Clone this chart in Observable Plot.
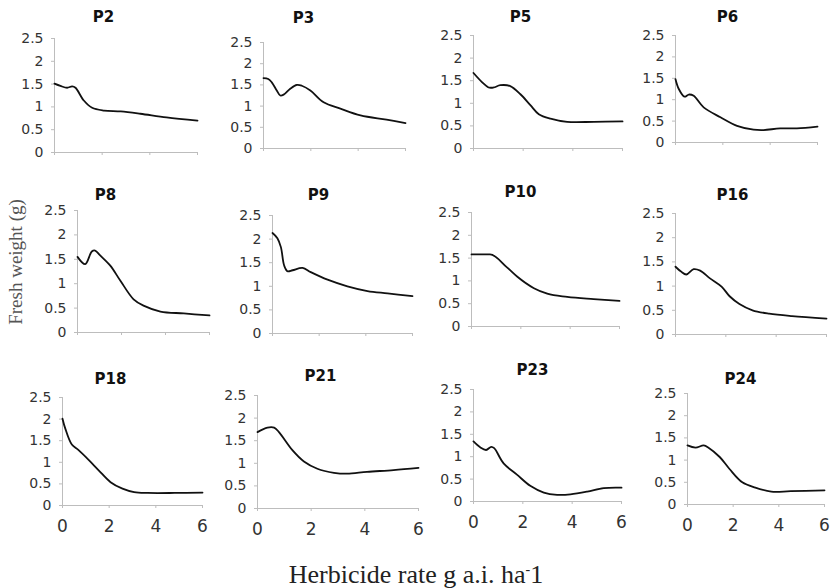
<!DOCTYPE html>
<html>
<head>
<meta charset="utf-8">
<script src="https://cdn.jsdelivr.net/npm/d3@7"></script>
<script src="https://cdn.jsdelivr.net/npm/@observablehq/plot@0.6"></script>
<style>
  html, body { margin: 0; padding: 0; background: #fff; }
  #chart { position: relative; width: 830px; height: 588px; overflow: hidden; background: #fff; }
  .panel { position: absolute; }
  #ylab { position: absolute; left: 16px; top: 262px; transform: translate(-50%, -50%) rotate(-90deg);
          font-family: "Liberation Serif", serif; font-size: 19px; color: #555; white-space: nowrap; }
  #xlab { position: absolute; left: 416px; top: 557px; transform: translateX(-50%);
          font-family: "Liberation Serif", serif; font-size: 26px; line-height: 26px; color: #222; white-space: nowrap; }
  #xlab sup { font-size: 14px; vertical-align: 9px; }
</style>
</head>
<body>
<div id="chart">
  <div id="ylab">Fresh weight (g)</div>
  <div id="xlab">Herbicide rate g a.i. ha<sup>-</sup>1</div>
</div>
<script>
// ---- data ----
const xTicks = [0, 2, 4, 6];
const yTicks = [0, 0.5, 1, 1.5, 2, 2.5];

const P2_rate   = [0, 0.25, 0.53, 0.74, 0.88, 1.23, 1.58, 2.08, 2.78, 3.6, 4.7, 6];
const P2_weight = [1.51, 1.46, 1.42, 1.45, 1.42, 1.14, 0.98, 0.92, 0.90, 0.85, 0.77, 0.70];

const P3_rate   = [0, 0.2, 0.35, 0.56, 0.71, 0.85, 1.13, 1.41, 1.62, 1.98, 2.54, 3.25, 4.1, 5.2, 6];
const P3_weight = [1.66, 1.64, 1.56, 1.37, 1.25, 1.27, 1.41, 1.50, 1.48, 1.37, 1.09, 0.94, 0.78, 0.68, 0.60];

const P5_rate   = [0, 0.34, 0.61, 0.81, 1.08, 1.48, 1.89, 2.29, 2.63, 3.1, 3.77, 4.85, 6];
const P5_weight = [1.67, 1.47, 1.35, 1.35, 1.40, 1.38, 1.20, 0.96, 0.76, 0.66, 0.59, 0.59, 0.60];

const P6_rate   = [0, 0.14, 0.38, 0.56, 0.77, 1.19, 1.9, 2.6, 3.3, 3.72, 4.42, 5.13, 6];
const P6_weight = [1.48, 1.25, 1.07, 1.12, 1.09, 0.82, 0.59, 0.39, 0.30, 0.29, 0.33, 0.33, 0.37];

const P8_rate   = [0, 0.35, 0.65, 0.8, 1.03, 1.49, 1.95, 2.55, 3.0, 3.77, 4.83, 6];
const P8_weight = [1.55, 1.40, 1.66, 1.68, 1.58, 1.37, 1.06, 0.68, 0.55, 0.43, 0.39, 0.35];

const P9_rate   = [0, 0.21, 0.36, 0.5, 0.64, 0.86, 1.29, 1.64, 2.36, 3.21, 4.07, 4.93, 6];
const P9_weight = [2.13, 2.02, 1.83, 1.44, 1.32, 1.34, 1.39, 1.30, 1.14, 1.00, 0.90, 0.85, 0.79];

const P10_rate   = [0, 0.75, 1.45, 1.86, 2.53, 3.07, 3.88, 4.95, 6];
const P10_weight = [1.58, 1.58, 1.29, 1.09, 0.84, 0.72, 0.65, 0.60, 0.56];

const P16_rate   = [0, 0.22, 0.43, 0.72, 0.98, 1.37, 1.83, 2.15, 2.54, 3.06, 3.72, 4.63, 6];
const P16_weight = [1.40, 1.30, 1.24, 1.35, 1.32, 1.16, 0.99, 0.79, 0.63, 0.50, 0.43, 0.38, 0.33];

const P18_rate   = [0, 0.12, 0.4, 0.69, 1.13, 1.56, 2.06, 2.57, 3.07, 3.65, 4.8, 6];
const P18_weight = [2.01, 1.78, 1.41, 1.28, 1.05, 0.81, 0.54, 0.39, 0.31, 0.29, 0.29, 0.30];

const P21_rate   = [0, 0.37, 0.62, 0.8, 1.3, 1.73, 2.23, 2.85, 3.34, 4.08, 5.07, 6];
const P21_weight = [1.69, 1.79, 1.79, 1.69, 1.29, 1.04, 0.88, 0.79, 0.77, 0.81, 0.85, 0.90];

const P23_rate   = [0, 0.27, 0.51, 0.72, 0.84, 1.22, 1.76, 2.3, 2.85, 3.39, 3.93, 4.61, 5.28, 6];
const P23_weight = [1.34, 1.21, 1.15, 1.22, 1.19, 0.85, 0.60, 0.35, 0.20, 0.15, 0.16, 0.22, 0.30, 0.31];

const P24_rate   = [0, 0.35, 0.71, 0.92, 1.41, 1.84, 2.4, 2.97, 3.67, 4.52, 6];
const P24_weight = [1.33, 1.28, 1.33, 1.28, 1.07, 0.80, 0.50, 0.38, 0.29, 0.30, 0.32];

const panelNames = ["P2", "P3", "P5", "P6", "P8", "P9", "P10", "P16", "P18", "P21", "P23", "P24"];
const panelRates   = [P2_rate, P3_rate, P5_rate, P6_rate, P8_rate, P9_rate, P10_rate, P16_rate, P18_rate, P21_rate, P23_rate, P24_rate];
const panelWeights = [P2_weight, P3_weight, P5_weight, P6_weight, P8_weight, P9_weight, P10_weight, P16_weight, P18_weight, P21_weight, P23_weight, P24_weight];

// ---- layout (frame edges in page pixels, title offsets) ----
const layout = [
  {l: 54,  r: 197, t: 38,  b: 152, tdx: 49, tdy: -21, xl: false},
  {l: 263, r: 405, t: 42,  b: 148, tdx: 40, tdy: -24, xl: false},
  {l: 473, r: 622, t: 35,  b: 148, tdx: 47, tdy: -18, xl: false},
  {l: 675, r: 817, t: 35,  b: 142, tdx: 52, tdy: -18, xl: false},
  {l: 77,  r: 209, t: 210, b: 332, tdx: 28, tdy: -15, xl: false},
  {l: 272, r: 412, t: 215, b: 333, tdx: 46, tdy: -20, xl: false},
  {l: 471, r: 619, t: 212, b: 326, tdx: 49, tdy: -20, xl: false},
  {l: 675, r: 826, t: 213, b: 334, tdx: 57, tdy: -18, xl: false},
  {l: 62,  r: 202, t: 397, b: 505, tdx: 48, tdy: -18, xl: true},
  {l: 257, r: 418, t: 395, b: 508, tdx: 63, tdy: -19, xl: true},
  {l: 473, r: 621, t: 389, b: 501, tdx: 59, tdy: -19, xl: true},
  {l: 687, r: 824, t: 393, b: 504, tdx: 53, tdy: -14, xl: true}
];

const chart = document.getElementById("chart");
const ML = 48, MR = 6, MT = 30;
const axisGrey = "#bdbdbd";

panelNames.forEach((name, i) => {
  const L = layout[i];
  const MB = L.xl ? 36 : 8;
  const rows = panelRates[i].map((x, j) => ({rate: x, weight: panelWeights[i][j]}));
  const p = Plot.plot({
    width: (L.r - L.l) + ML + MR,
    height: (L.b - L.t) + MT + MB,
    marginLeft: ML, marginRight: MR, marginTop: MT, marginBottom: MB,
    x: {domain: [0, 6], axis: null},
    y: {domain: [0, 2.5], axis: null},
    style: {fontFamily: "DejaVu Sans", fontSize: "14px", background: "transparent", overflow: "visible"},
    marks: [
      Plot.ruleX([0], {y1: 0, y2: 2.5, stroke: axisGrey, strokeWidth: 1}),
      Plot.ruleY([0], {x1: 0, x2: 6, stroke: axisGrey, strokeWidth: 1}),
      Plot.axisY({ticks: yTicks, label: null, tickSize: 3, tickPadding: 8, stroke: axisGrey, fill: "#333", fontSize: 14, tickFormat: d => String(d)}),
      L.xl
        ? Plot.axisX({ticks: xTicks, label: null, tickSize: 3, tickPadding: 11, stroke: axisGrey, fill: "#333", fontSize: 17, tickFormat: d => String(d)})
        : Plot.axisX({ticks: xTicks, label: null, tickSize: 3, stroke: axisGrey, tickFormat: () => ""}),
      Plot.line(rows, {x: "rate", y: "weight", curve: name === "P10" ? "monotone-x" : "catmull-rom", stroke: "#111", strokeWidth: 1.8}),
      Plot.text([name], {frameAnchor: "top-left", dx: L.tdx, dy: L.tdy, text: d => d, textAnchor: "middle", lineAnchor: "middle",
        fontWeight: "bold", fontSize: 15, fill: "#111"})
    ]
  });
  p.classList.add("panel");
  p.style.left = (L.l - ML) + "px";
  p.style.top = (L.t - MT) + "px";
  chart.appendChild(p);
});
</script>
</body>
</html>
